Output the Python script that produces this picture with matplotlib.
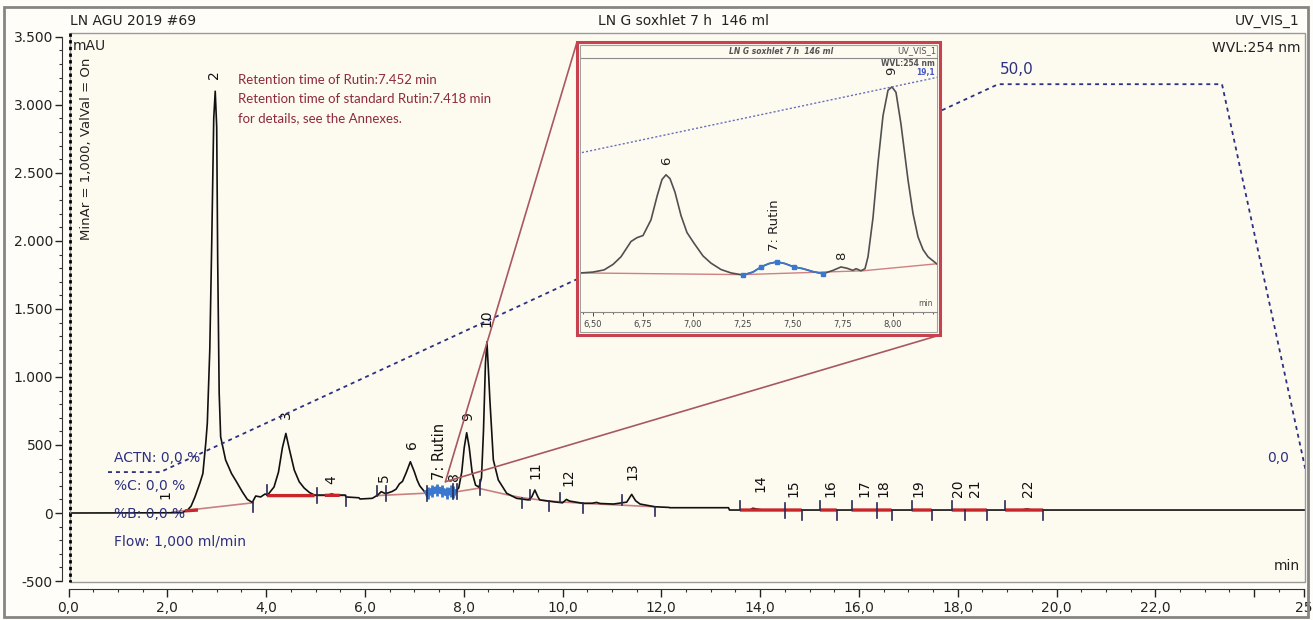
import numpy as np
import matplotlib.pyplot as plt
from matplotlib.patches import Rectangle, ConnectionPatch
from matplotlib.lines import Line2D
from matplotlib.ticker import MultipleLocator, FixedLocator, FixedFormatter

nan = np.nan
W, H = 1313, 620

# main chromatogram trace (min, mAU)
trace_time = [0.00, 2.30, 2.41, 2.48, 2.56, 2.66, 2.72, 2.78, 2.81, 2.86, 2.90, 2.94,
              2.97, 3.00, 3.02, 3.05, 3.08, 3.18, 3.30, 3.40, 3.52, 3.62, 3.72, 3.79,
              3.89, 3.98, 4.03, 4.16, 4.25, 4.33, 4.40, 4.47, 4.57, 4.67, 4.77, 4.88,
              4.98, 5.25, 5.33, 5.40, 5.60, 5.62, 5.88, 5.90, 6.15, 6.26, 6.33, 6.40,
              6.46, 6.55, 6.63, 6.70, 6.76, 6.84, 6.92, 7.00, 7.06, 7.11, 7.21, 7.28,
              7.36, 7.46, 7.56, 7.66, 7.74, 7.79, 7.84, 7.90, 7.96, 8.01, 8.06, 8.11,
              8.17, 8.24, 8.31, 8.36, 8.40, 8.44, 8.47, 8.50, 8.53, 8.60, 8.70, 8.87,
              9.07, 9.31, 9.38, 9.44, 9.50, 9.54, 9.81, 10.00, 10.08, 10.14, 10.42, 10.60,
              10.69, 10.76, 11.03, 11.30, 11.40, 11.48, 11.57, 11.87, 12.16, 12.17, 13.36, 13.38,
              13.80, 13.85, 13.95, 14.05, 19.30, 19.40, 19.50, 25.03]
trace_mau = [0, 2, 22, 50, 118, 220, 290, 520, 661, 1200, 2000, 2900,
             3100, 2837, 1860, 882, 560, 390, 290, 230, 155, 100, 78, 125,
             118, 140, 132, 191, 300, 480, 585, 470, 316, 230, 184, 150,
             132, 132, 140, 132, 132, 118, 112, 103, 108, 132, 157, 145,
             147, 158, 175, 215, 232, 300, 377, 304, 240, 200, 155, 148,
             160, 172, 162, 148, 162, 155, 160, 185, 300, 480, 590, 487,
             300, 205, 190, 260, 600, 1100, 1259, 1050, 830, 390, 243, 145,
             108, 96, 120, 169, 120, 96, 83, 75, 100, 88, 71, 72,
             78, 70, 66, 80, 137, 90, 66, 46, 41, 39, 39, 22,
             22, 35, 28, 22, 22, 30, 22, 22]

# integration baseline (thin) and highlighted parts (thick)
base_time = [2.10, 3.73, nan, 4.02, 5.62, nan, 6.24, 7.25, nan,
             7.87, 8.30, 8.87, 9.19, 9.73, 10.42, 11.87]
base_mau = [8, 75, nan, 128, 128, nan, 128, 146, nan,
            157, 182, 135, 112, 88, 71, 46]
thick_time = [2.36, 2.62, nan, 4.02, 4.98, nan, 5.19, 5.49, nan, 13.59, 14.84, nan,
              15.21, 15.55, nan, 15.85, 16.66, nan, 17.07, 17.47, nan, 17.88, 18.59, nan,
              18.96, 19.73]
thick_mau = [16, 22, nan, 128, 128, nan, 130, 130, nan, 22, 22, nan,
             22, 22, nan, 22, 22, nan, 22, 22, nan, 22, 22, nan, 22, 22]

# peak delimiters: time, level, direction (+1 up, -1 down, 0 across)
delim_time = [3.73, 4.02, 5.04, 5.62, 6.24, 6.43, 7.25, 7.79, 7.87, 8.32, 9.19, 9.34,
              9.73, 9.95, 10.42, 11.20, 11.87, 13.59, 14.50, 14.84, 15.21, 15.55, 15.85,
              16.36, 16.66, 17.07, 17.47, 17.88, 18.15, 18.59, 18.96, 19.73]
delim_mau = [78, 135, 132, 120, 128, 140, 146, 155, 157, 188, 108, 96,
             88, 78, 71, 60, 46, 22, 22, 22, 22, 22, 22,
             22, 22, 22, 22, 22, 22, 22, 22, 22]
delim_dir = [-1, 1, 0, -1, 1, 0, 0, 0, 0, 0, -1, 1,
             -1, 1, -1, 1, -1, 1, 0, -1, 1, -1, 1,
             0, -1, 1, -1, 1, -1, -1, 1, -1]

# peak names and label positions
peak_names = ['1', '2', '3', '4', '5', '6', '7: Rutin', '8', '9', '10', '11', '12', '13',
              '14', '15', '16', '17', '18', '19', '20', '21', '22']
label_time = [1.97, 2.95, 4.40, 5.33, 6.39, 6.95, 7.50, 7.80, 8.09, 8.47, 9.46, 10.12, 11.42,
              14.00, 14.67, 15.42, 16.11, 16.49, 17.20, 18.01, 18.35, 19.43]
label_mau = [132, 3219, 720, 243, 257, 500, 456, 267, 708, 1433, 316, 267, 304,
             218, 181, 181, 181, 181, 181, 181, 181, 181]

# rutin window
rutin_start, rutin_end = 7.25, 7.79
zoom_focus = (7.63, 230)

# solvent gradient (%)
gradient_time = [0.80, 1.86, 18.82, 23.35, 25.05]
gradient_pct = [0, 0, 50, 50, 0]

# zoomed trace (inset)
zoom_time = [6.44, 6.50, 6.555, 6.60, 6.64, 6.69, 6.72, 6.75, 6.79, 6.82, 6.845, 6.865,
             6.885, 6.91, 6.94, 6.97, 7.005, 7.05, 7.09, 7.14, 7.19, 7.25, 7.30, 7.34,
             7.38, 7.42, 7.46, 7.505, 7.55, 7.60, 7.65, 7.70, 7.74, 7.77, 7.80, 7.815,
             7.84, 7.86, 7.875, 7.90, 7.925, 7.95, 7.975, 7.995, 8.015, 8.04, 8.075, 8.10,
             8.125, 8.15, 8.175, 8.225]
zoom_mau = [150, 152, 157, 170, 188, 224, 233, 238, 275, 330, 370, 381,
            372, 340, 285, 245, 220, 190, 173, 158, 150, 145, 152, 164,
            172, 176, 172, 164, 160, 153, 148, 156, 164, 161, 156, 160,
            155, 160, 188, 280, 409, 520, 580, 588, 575, 500, 369, 290,
            235, 205, 188, 169]
rutin_pts_time = [7.25, 7.34, 7.42, 7.505, 7.65]
rutin_pts_mau = [145, 164, 176, 164, 148]
zoom_base_time = [6.44, 7.25, 7.85, 8.23]
zoom_base_mau = [150, 146, 155, 172]
zoom_names = ['6', '7: Rutin', '8', '9']
zoom_label_time = [6.87, 7.41, 7.745, 7.995]
zoom_label_mau = [415, 262, 190, 625]

CREAM = '#FDFBF0'
NAVY = '#2D3080'
MAROON = '#8E2B3A'


def box(x0, y0, x1, y1):
    return [x0 / W, 1 - y1 / H, (x1 - x0) / W, (y1 - y0) / H]


def fxy(x, y):
    return x / W, 1 - y / H


fig = plt.figure(figsize=(W / 100, H / 100), dpi=100, facecolor='#FEFDF8')

ax = fig.add_axes(box(68.5, 33, 1305, 582), facecolor=CREAM)
ax.set_xlim(0, 25.03)
ax.set_ylim(-507, 3528)
for s in ('top', 'right'):
    ax.spines[s].set_visible(False)
ax.spines['left'].set_position(('outward', 4.7))
ax.spines['bottom'].set_position(('outward', 5))
ax.spines['left'].set_bounds(-500, 3500)
ax.spines['bottom'].set_bounds(0, 25)
ax.spines['left'].set_color('#333333')
ax.spines['bottom'].set_color('#333333')

yt = list(range(-500, 3501, 500))
ax.yaxis.set_major_locator(FixedLocator(yt))
ax.yaxis.set_major_formatter(FixedFormatter(['{:,}'.format(v).replace(',', '.') for v in yt]))
ax.yaxis.set_minor_locator(MultipleLocator(100))
xt = list(range(0, 25, 2)) + [25]
ax.xaxis.set_major_locator(FixedLocator(xt))
ax.xaxis.set_major_formatter(FixedFormatter(['{:.1f}'.format(v).replace('.', ',') for v in xt[:-2]] + ['', '25']))
ax.xaxis.set_minor_locator(MultipleLocator(0.5))
ax.tick_params(axis='y', which='major', length=5, width=1, labelsize=10, pad=1.5, colors='#222222')
ax.tick_params(axis='y', which='minor', length=2.2, width=0.8, colors='#333333')
ax.tick_params(axis='x', which='major', length=6, width=1, labelsize=10, pad=3, colors='#222222')
ax.tick_params(axis='x', which='minor', length=2.2, width=0.8, colors='#333333')

# gradient on a percent scale
axg = ax.twinx()
axg.set_ylim(-14.17, 56.6)
axg.set_axis_off()
axg.plot(gradient_time, gradient_pct, color=NAVY, lw=1.3, ls=(0, (2.2, 2.2)))

# baseline, trace and highlights
ax.plot(base_time, base_mau, color='#C98080', lw=1.2, zorder=2)
ax.plot(trace_time, trace_mau, color='#111111', lw=1.2, zorder=3)
ax.plot(thick_time, thick_mau, color='#C8262A', lw=2.4, zorder=4, solid_capstyle='butt')
tt = np.array(trace_time)
tm = np.array(trace_mau)
sel = (tt >= rutin_start) & (tt <= rutin_end)
ax.plot(tt[sel], tm[sel], color='#3A78D0', lw=5, zorder=5, marker='|', ms=9, mew=2)

for t, v, d in zip(delim_time, delim_mau, delim_dir):
    lo, hi = (v, v + 70) if d > 0 else ((v - 70, v) if d < 0 else (v - 55, v + 55))
    ax.plot([t, t], [lo, hi], color='#2A2A55', lw=1.2, zorder=6)

for name, t, v in zip(peak_names, label_time, label_mau):
    ax.text(t, v, name, rotation=90, ha='center', va='center',
            fontsize=10.5 if 'Rutin' in name else 10, color='#111111', zorder=7)

# frame and outer border
fig.add_artist(Rectangle(fxy(70, 582), 1235 / W, 549 / H, transform=fig.transFigure,
                         fill=False, ec='#9A9A9A', lw=1, zorder=3))
fig.add_artist(Line2D([70 / W, 70 / W], [1 - 33 / H, 1 - 582 / H], transform=fig.transFigure,
                      color='k', lw=2, ls=(0, (1.2, 1.2)), zorder=3))
fig.add_artist(Rectangle(fxy(4, 617), 1304 / W, 610 / H, transform=fig.transFigure,
                         fill=False, ec='#858585', lw=2, zorder=3))

# header texts
fig.text(*fxy(70, 21), 'LN AGU 2019 #69', fontsize=10, va='center', ha='left', color='#222222')
fig.text(*fxy(683, 21), 'LN G soxhlet 7 h  146 ml', fontsize=10, va='center', ha='center', color='#222222')
fig.text(*fxy(1300, 21), 'UV_VIS_1', fontsize=10, va='center', ha='right', color='#222222')
fig.text(*fxy(73, 46), 'mAU', fontsize=10, va='center', ha='left', color='#222222')
fig.text(*fxy(1300, 48), 'WVL:254 nm', fontsize=10, va='center', ha='right', color='#222222')
fig.text(*fxy(86, 58), 'MinAr = 1,000, ValVal = On', fontsize=9.5, rotation=90,
         va='top', ha='center', color='#222222')
fig.text(*fxy(1300, 566), 'min', fontsize=10, va='center', ha='right', color='#222222')
fig.text(*fxy(1017, 70), '50,0', fontsize=11, va='center', ha='center', color=NAVY)
fig.text(*fxy(1278, 458), '0,0', fontsize=10, va='center', ha='center', color=NAVY)
for i, s in enumerate(['ACTN: 0,0 %', '%C: 0,0 %', '%B: 0,0 %', 'Flow: 1,000 ml/min']):
    fig.text(*fxy(114, 458 + 28 * i), s, fontsize=10, va='center', ha='left', color=NAVY)
for i, s in enumerate(['Retention time of Rutin:7.452 min',
                       'Retention time of standard Rutin:7.418 min',
                       'for details, see the Annexes.']):
    fig.text(*fxy(238, 80 + 19 * i), s, fontsize=9.5, va='center', ha='left',
             color=MAROON, family=['Lato', 'DejaVu Sans'])

# inset (zoom window)
fig.add_artist(Rectangle(fxy(577, 335), 363 / W, 293 / H, transform=fig.transFigure,
                         fc=CREAM, ec='#C8414F', lw=2.2, zorder=5))
fig.add_artist(Rectangle(fxy(580, 332), 357 / W, 287 / H, transform=fig.transFigure,
                         fill=False, ec='#A0A0A0', lw=0.8, zorder=5.5))
ins = fig.add_axes(box(581, 58, 937, 312), facecolor=CREAM, zorder=6)
ins.set_xlim(6.44, 8.22)
ins.set_ylim(58, 656)
for s in ('left', 'right'):
    ins.spines[s].set_visible(False)
ins.spines['top'].set_color('#8A8A8A')
ins.spines['bottom'].set_color('#8A8A8A')
ins.set_yticks([])
ins.xaxis.set_major_locator(MultipleLocator(0.25))
ins.xaxis.set_major_formatter(plt.FuncFormatter(lambda v, p: '{:.2f}'.format(v).replace('.', ',')))
ins.xaxis.set_minor_locator(MultipleLocator(0.05))
ins.tick_params(axis='x', which='major', length=3, width=0.7, labelsize=6, pad=2.5, colors='#444444')
ins.tick_params(axis='x', which='minor', length=1.5, width=0.6, colors='#444444')

ins_g = ins.twinx()
ins_g.set_zorder(6.5)
ins_g.set_ylim(2.42, 20.10)
ins_g.set_axis_off()
ins_g.plot(gradient_time, gradient_pct, color='#6A6FB8', lw=1, ls=(0, (1.5, 1.5)))

ins.plot(zoom_base_time, zoom_base_mau, color='#D08080', lw=1)
ins.plot(zoom_time, zoom_mau, color='#505050', lw=1.2)
zt = np.array(zoom_time)
zs = (zt >= rutin_pts_time[0]) & (zt <= rutin_pts_time[-1])
ins.plot(zt[zs], np.array(zoom_mau)[zs], color='#3A78D0', lw=1.2)
ins.plot(rutin_pts_time, rutin_pts_mau, ls='none', marker='s', ms=3, color='#3A78D0')
for name, t, v in zip(zoom_names, zoom_label_time, zoom_label_mau):
    ins.text(t, v, name, rotation=90, ha='center', va='center', fontsize=9.5, color='#222222')

fig.text(*fxy(781, 51), 'LN G soxhlet 7 h  146 ml', fontsize=5.5, fontweight='bold',
         style='italic', ha='center', va='center', color='#555555', zorder=10)
fig.text(*fxy(936, 51), 'UV_VIS_1', fontsize=6, ha='right', va='center', color='#555555', zorder=10)
fig.text(*fxy(935, 64), 'WVL:254 nm', fontsize=5.5, fontweight='bold', ha='right', va='center',
         color='#555555', zorder=10)
fig.text(*fxy(935, 72), '19,1', fontsize=5.5, fontweight='bold', ha='right', va='center',
         color='#4A58C8', zorder=10)
fig.text(*fxy(933, 303), 'min', fontsize=5.5, ha='right', va='center', color='#555555', zorder=10)

# zoom connectors
for corner in (fxy(577, 42), fxy(940, 335)):
    fig.add_artist(ConnectionPatch(xyA=zoom_focus, coordsA=ax.transData, xyB=corner,
                                   coordsB=fig.transFigure, color='#A8585E', lw=1.2, zorder=4))

fig.savefig('out.png', dpi=100, facecolor=fig.get_facecolor())
